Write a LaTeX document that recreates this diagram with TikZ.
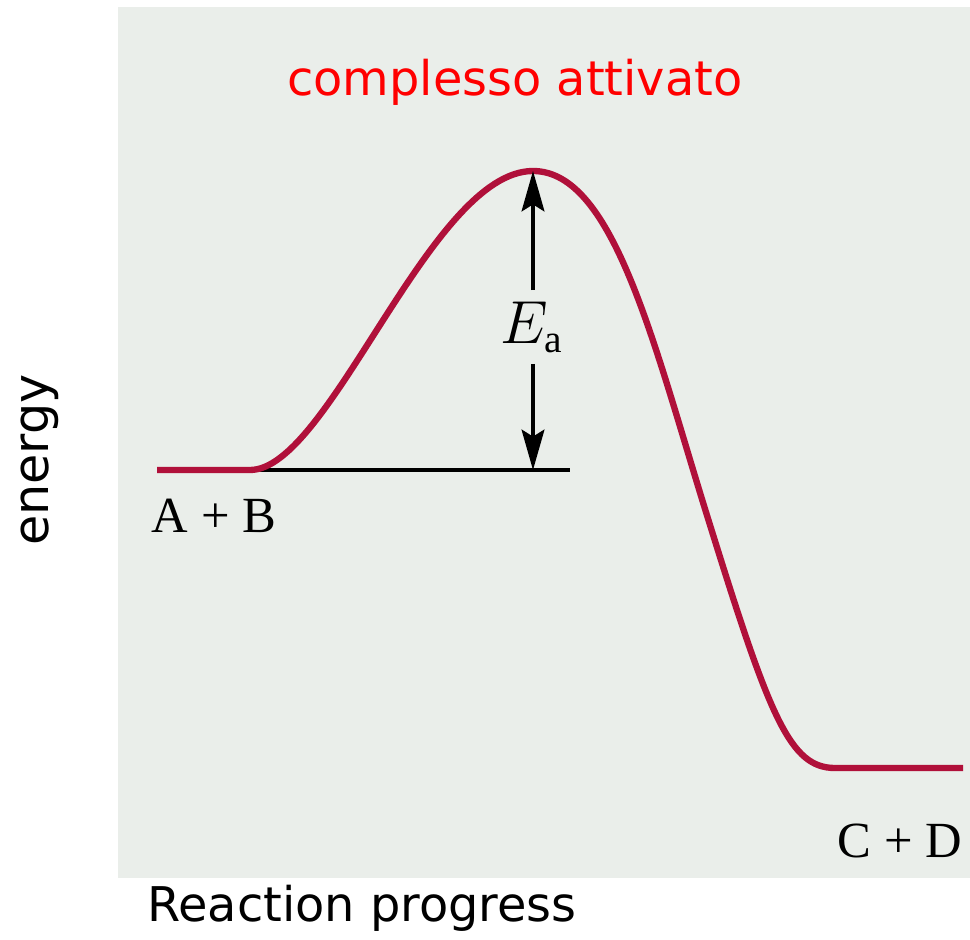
\documentclass[tikz,border=0pt]{standalone}
\usepackage{fontspec}
\setmainfont{Liberation Serif}
\newfontfamily\handfont{DejaVu Sans}
\usetikzlibrary{arrows.meta, positioning}
\definecolor{panelgrey}{RGB}{234,238,234}
\definecolor{curvered}{RGB}{176,16,58}
\definecolor{labelred}{RGB}{255,0,0}
\begin{document}
\begin{tikzpicture}[x=0.01cm, y=-0.01cm]
      \useasboundingbox (0,0) rectangle (970,940);
      % Panel
      \fill[panelgrey] (118,7) rectangle (970,878);

      % Levels and peak
      \coordinate (start) at (157,470);
      \coordinate (react) at (250,470);
      \coordinate (peak) at (533,171);
      \coordinate (base) at (533,470);
      \coordinate (baseend) at (570,470);
      \coordinate (prod) at (835,768);
      \coordinate (finish) at (963,768);

      % Reactant baseline
      \draw[line width=0.9pt] (react) -- (baseend);

      % Energy curve
      \draw[curvered, line width=1.8pt, line join=round]
        (start) -- (react) .. controls (330,470) and (430,171) .. (peak)
        .. controls (615,171) and (655,350) .. (710,525)
        .. controls (770,718) and (790,768) .. (prod) -- (finish);

      % Labels
      \node[font=\handfont\fontsize{13.6}{16}\selectfont, text=labelred] (ttitle) at (515,82) {complesso attivato};
      \node[font=\fontsize{14.4}{16}\selectfont] (ab) at (214,516) {A + B};
      \node[font=\fontsize{14.4}{16}\selectfont] (cd) at (900,841) {C + D};
      \node[font=\fontsize{16}{18}\selectfont, inner sep=3pt] (ea) at (532,327) {$E_{\mathrm{a}}$};
      \node[font=\handfont\fontsize{14}{16}\selectfont, rotate=90] (yaxis) at (40,460) {energy};
      \node[font=\handfont\fontsize{13.6}{16}\selectfont] (xaxis) at (362,908) {Reaction progress};

      % Arrows
      \draw[-{Stealth[length=11.5pt, width=6.5pt, inset=2pt]}, line width=0.9pt] (ea.north -| peak) -- (peak);
      \draw[-{Stealth[length=11.5pt, width=6.5pt, inset=2pt]}, line width=0.9pt] (ea.south -| base) -- (base);
    \end{tikzpicture}
\end{document}
